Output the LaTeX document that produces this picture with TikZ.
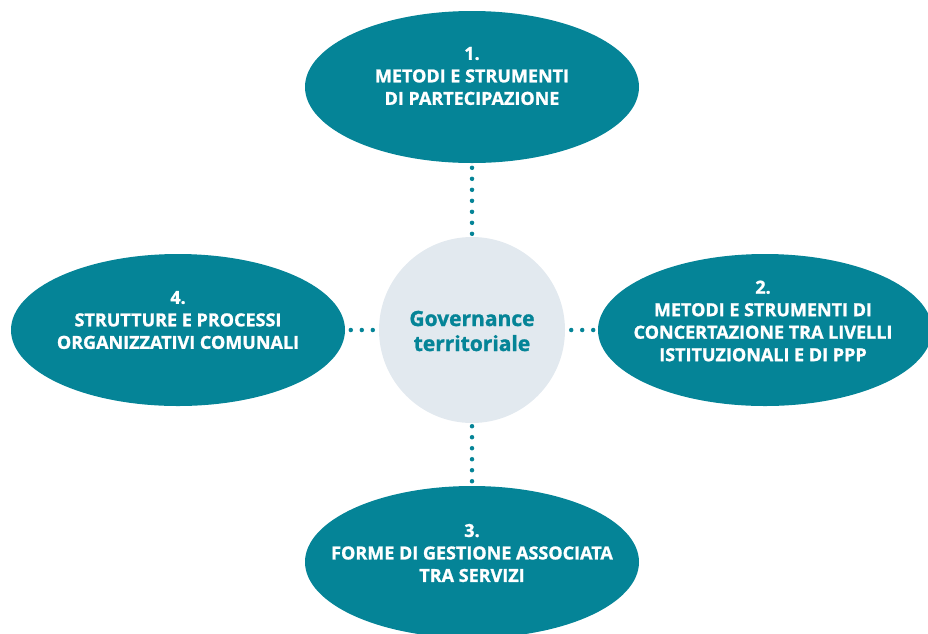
\documentclass[tikz,border=0pt]{standalone}
\usepackage{fontspec}
\setmainfont{Open Sans}[BoldFont={Open Sans Bold},BoldFeatures={FakeBold=1.2}]
\usetikzlibrary{shapes.geometric}
\definecolor{petrol}{RGB}{5,132,151}
\definecolor{mist}{RGB}{226,233,239}

\begin{document}
\begin{tikzpicture}[x=1pt,y=-1pt,
    blob/.style={ellipse,fill=petrol,minimum width=334pt,minimum height=152pt,inner sep=0pt},
    blurb/.style={text=white,font=\bfseries\fontsize{18}{22.5}\selectfont,align=center},
    dots/.style={petrol,line width=4.5pt,line cap=round,dash pattern=on 0pt off 11pt}]
  \clip (0,0) rectangle (928,633);
  % centre
  \node[circle,fill=mist,minimum size=186pt,inner sep=0pt] (hub) at (472,330) {};
  \node[text=petrol,font=\bfseries\fontsize{21}{25}\selectfont,align=center] (hubtxt) at (472,331) {Governance\\territoriale};
  % the four areas
  \node[blob] (m1) at (472,87) {};
  \node[blurb] (t1) at (472,76) {1.\\METODI E STRUMENTI\\DI PARTECIPAZIONE};
  \node[blob] (m2) at (765,330) {};
  \node[blurb] (t2) at (763,321) {2.\\METODI E STRUMENTI DI\\CONCERTAZIONE TRA LIVELLI\\ISTITUZIONALI E DI PPP};
  \node[blob] (m3) at (472,562) {};
  \node[blurb] (t3) at (472,553) {3.\\FORME DI GESTIONE ASSOCIATA\\TRA SERVIZI};
  \node[blob] (m4) at (178,330) {};
  \node[blurb] (t4) at (178,320) {4.\\STRUTTURE E PROCESSI\\ORGANIZZATIVI COMUNALI};
  % dotted links
  \draw[dots,shorten <=3pt,shorten >=3pt] (hub) -- (m1);
  \draw[dots,shorten <=3pt,shorten >=3pt] (hub) -- (m3);
  \draw[dots,shorten <=6pt,shorten >=1pt] (hub) -- (m2);
  \draw[dots,shorten <=6pt,shorten >=1pt] (hub) -- (m4);
\end{tikzpicture}
\end{document}
